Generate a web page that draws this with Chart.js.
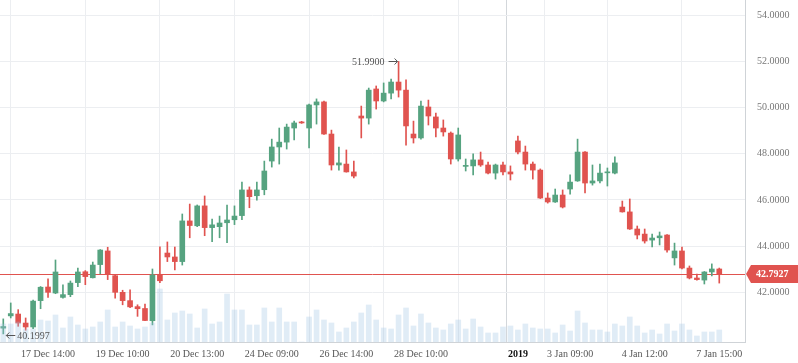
<!DOCTYPE html>
<html>
<head>
<meta charset="utf-8">
<script src="https://cdn.jsdelivr.net/npm/chart.js"></script>
<style>
  html, body { margin: 0; padding: 0; background: #fff; }
  #wrap { width: 798px; height: 363px; }
</style>
</head>
<body>
<div id="wrap"><canvas id="chart" width="798" height="363"></canvas></div>
<script>
// candles, one per bar index (0 = 17 Dec morning ... 96 = 7 Jan 15:00)
const opens = [
  40.45, 40.98, 41.06, 40.67, 40.50, 41.64, 42.23, 41.97, 41.78, 41.90,
  42.42, 42.89, 42.63, 43.20, 43.79, 42.72, 42.00, 41.64, 41.38, 41.30,
  40.77, 42.78, 43.70, 43.53, 43.33, 45.09, 44.88, 45.74, 44.80, 44.84,
  45.01, 45.14, 45.32, 46.43, 46.18, 46.44, 47.68, 48.29, 48.50, 49.11,
  49.37, 49.11, 50.11, 50.24, 48.85, 47.51, 47.55, 47.21, 49.63, 49.54,
  50.80, 50.28, 50.62, 51.10, 50.75, 48.85, 48.68, 50.02, 49.59, 49.11,
  48.89, 47.77, 47.45, 47.47, 47.73, 47.51, 47.16, 47.51, 47.21, 48.55,
  48.07, 47.55, 47.29, 46.08, 45.91, 46.21, 46.47, 46.82, 48.07, 46.73,
  46.82, 47.17, 47.16, 45.69, 45.48, 44.74, 44.52, 44.26, 44.36, 44.48,
  43.49, 43.79, 43.05, 42.62, 42.53, 42.88, 43.01
];
const highs = [
  40.85, 41.54, 41.25, 40.89, 41.66, 42.25, 42.58, 43.40, 42.32, 42.49,
  43.05, 42.94, 43.31, 43.85, 43.95, 42.74, 42.09, 42.11, 41.46, 41.49,
  43.01, 43.97, 44.18, 43.96, 45.39, 45.82, 45.78, 46.17, 45.17, 45.30,
  45.78, 45.74, 46.77, 46.56, 46.77, 47.68, 48.63, 49.11, 49.28, 49.41,
  49.40, 50.15, 50.37, 50.28, 49.02, 48.29, 48.16, 47.68, 50.06, 50.84,
  50.93, 51.06, 51.23, 51.99, 51.19, 49.41, 50.28, 50.32, 49.76, 49.46,
  48.94, 49.11, 47.77, 47.99, 48.07, 47.64, 47.55, 47.64, 47.47, 48.76,
  48.33, 47.64, 47.34, 46.30, 46.47, 46.43, 47.08, 48.63, 48.09, 47.51,
  47.55, 47.38, 47.86, 45.95, 46.04, 44.87, 44.74, 44.52, 44.61, 44.50,
  44.13, 43.96, 43.14, 42.79, 42.90, 43.23, 43.05
];
const lows = [
  40.1997, 40.89, 40.53, 40.36, 40.43, 41.29, 41.78, 41.94, 41.75, 41.81,
  42.24, 42.33, 42.62, 42.80, 42.55, 41.75, 41.46, 41.34, 40.96, 40.77,
  40.59, 42.42, 43.33, 42.97, 43.18, 44.36, 44.84, 44.45, 44.19, 44.36,
  44.15, 44.93, 45.14, 45.66, 45.99, 46.22, 47.42, 47.55, 48.20, 48.59,
  49.31, 48.25, 49.28, 48.83, 47.29, 47.29, 47.20, 46.95, 48.68, 49.28,
  49.93, 50.24, 50.37, 50.45, 48.37, 48.46, 48.63, 49.24, 48.72, 48.76,
  47.55, 47.68, 47.25, 47.08, 47.45, 47.12, 46.90, 47.08, 46.86, 47.99,
  47.29, 46.90, 46.06, 45.86, 45.89, 45.65, 46.25, 46.80, 46.30, 46.64,
  46.73, 46.60, 47.12, 45.47, 44.72, 44.31, 44.13, 43.96, 44.05, 43.74,
  43.18, 43.01, 42.58, 42.53, 42.36, 42.71, 42.40
];
const closes = [
  40.52, 41.08, 40.67, 40.50, 41.62, 42.22, 42.00, 42.88, 41.90, 42.40,
  42.88, 42.68, 43.18, 43.83, 42.80, 42.00, 41.64, 41.37, 41.29, 40.78,
  42.75, 42.50, 43.53, 43.33, 45.09, 44.89, 45.74, 44.80, 44.92, 45.00,
  45.13, 45.30, 46.43, 46.14, 46.43, 47.25, 48.29, 48.50, 49.15, 49.33,
  49.33, 50.11, 50.24, 48.85, 47.51, 47.60, 47.21, 47.03, 49.54, 50.75,
  50.28, 50.62, 51.10, 50.75, 49.20, 48.68, 50.06, 49.63, 49.11, 48.94,
  47.77, 48.81, 47.49, 47.73, 47.51, 47.16, 47.51, 47.21, 47.12, 48.07,
  47.55, 47.29, 46.08, 45.91, 46.21, 45.69, 46.77, 48.07, 46.73, 46.82,
  47.16, 47.21, 47.60, 45.48, 44.74, 44.48, 44.22, 44.35, 44.44, 43.83,
  43.79, 43.05, 42.62, 42.55, 42.88, 43.01, 42.7927
];
// volume (thousands)
const volumes = [
  450, 450, 500, 325, 325, 550, 525, 675, 350, 625,
  425, 325, 375, 500, 800, 375, 500, 400, 325, 375,
  475, 1325, 550, 725, 775, 700, 350, 825, 450, 500,
  1200, 800, 800, 425, 425, 850, 500, 850, 500, 500,
  0, 625, 800, 550, 475, 250, 350, 500, 725, 925,
  550, 350, 325, 675, 850, 400, 700, 475, 350, 300,
  450, 550, 325, 575, 375, 225, 225, 375, 400, 300,
  450, 350, 325, 325, 225, 425, 275, 775, 475, 300,
  300, 250, 450, 400, 625, 400, 225, 300, 200, 450,
  275, 450, 300, 150, 250, 250, 300
];
const tickIdx = [6, 16, 26, 36, 46, 56, 66, 69, 76, 86, 96];
const tickLabels = ['17 Dec 14:00', '19 Dec 10:00', '20 Dec 13:00', '24 Dec 09:00', '26 Dec 14:00',
  '28 Dec 10:00', '', '2019', '3 Jan 09:00', '4 Jan 12:00', '7 Jan 15:00'];
const priceTicks = [42, 44, 46, 48, 50, 52, 54];

const GREEN = '#56a380';
const RED = '#e0534f';
const FONT = '"Liberation Serif", "Times New Roman", serif';

const idx = opens.map((_, i) => i);
const lastPrice = closes[closes.length - 1];
const candleColors = idx.map(i => closes[i] >= opens[i] ? GREEN : RED);

// little arrow drawn with lines, tip at (x, y)
function arrow(ctx, x, y, dir) {
  const len = 9;
  ctx.beginPath();
  ctx.moveTo(x - dir * len, y + 0.5);
  ctx.lineTo(x, y + 0.5);
  ctx.moveTo(x - dir * 3, y - 2.5);
  ctx.lineTo(x, y + 0.5);
  ctx.lineTo(x - dir * 3, y + 3.5);
  ctx.stroke();
}

const markPlugin = {
  id: 'priceMarks',
  beforeDatasetsDraw(chart) {
    const { ctx, chartArea, scales } = chart;
    const y = Math.round(scales.y.getPixelForValue(lastPrice)) + 0.5;
    ctx.save();
    ctx.strokeStyle = RED;
    ctx.lineWidth = 1;
    ctx.beginPath();
    ctx.moveTo(chartArea.left, y);
    ctx.lineTo(chartArea.right, y);
    ctx.stroke();
    ctx.restore();
  },
  afterDraw(chart) {
    const { ctx, chartArea, scales } = chart;
    const xs = scales.x, ys = scales.y;
    ctx.save();

    // last price tag on the axis
    const y = Math.round(ys.getPixelForValue(lastPrice));
    const x0 = chartArea.right + 1;
    ctx.fillStyle = RED;
    ctx.beginPath();
    ctx.moveTo(x0, y);
    ctx.lineTo(x0 + 5, y - 9);
    ctx.lineTo(chart.width, y - 9);
    ctx.lineTo(chart.width, y + 9);
    ctx.lineTo(x0 + 5, y + 9);
    ctx.closePath();
    ctx.fill();
    ctx.fillStyle = '#fff';
    ctx.font = 'bold 10px ' + FONT;
    ctx.textBaseline = 'middle';
    ctx.textAlign = 'left';
    ctx.fillText(lastPrice.toFixed(4), chartArea.right + 11, y);

    // high and low of the period
    const hi = Math.max(...highs), lo = Math.min(...lows);
    const hiI = highs.indexOf(hi), loI = lows.indexOf(lo);
    const hx = xs.getPixelForValue(hiI), hy = Math.round(ys.getPixelForValue(hi)) + 1;
    const lx = xs.getPixelForValue(loI), ly = Math.round(ys.getPixelForValue(lo)) + 1;
    ctx.fillStyle = '#555';
    ctx.strokeStyle = '#555';
    ctx.lineWidth = 1;
    ctx.font = '10px ' + FONT;
    ctx.textAlign = 'right';
    ctx.fillText(hi.toFixed(4), hx - 14, hy);
    arrow(ctx, hx - 1, hy - 1, 1);
    ctx.textAlign = 'left';
    ctx.fillText(lo.toFixed(4), lx + 14, ly + 1);
    arrow(ctx, lx + 3, ly, -1);
    ctx.restore();
  }
};

new Chart(document.getElementById('chart'), {
  type: 'bar',
  data: {
    datasets: [
      {
        label: 'Volume',
        data: idx.map(i => ({ x: i, y: volumes[i] })),
        yAxisID: 'yv',
        backgroundColor: 'rgba(160, 196, 226, 0.32)',
        barThickness: 5,
        grouped: false,
        order: 0
      },
      {
        label: 'Body',
        data: idx.map(i => ({ x: i, y: [opens[i], closes[i]] })),
        backgroundColor: candleColors,
        barThickness: 5,
        minBarLength: 1,
        grouped: false,
        order: 1
      },
      {
        label: 'Wick',
        data: idx.map(i => ({ x: i, y: [lows[i], highs[i]] })),
        backgroundColor: candleColors,
        barThickness: 1,
        grouped: false,
        order: 2
      }
    ]
  },
  options: {
    responsive: false,
    animation: false,
    layout: { padding: 0 },
    plugins: {
      legend: { display: false },
      tooltip: { enabled: false }
    },
    scales: {
      x: {
        type: 'linear',
        min: -0.44,
        max: 99.45,
        offset: false,
        grid: {
          drawTicks: false,
          color: c => c.tick && c.tick.value === 69 ? '#d3d7db' : '#eceef1'
        },
        border: { color: '#cfd3d7' },
        ticks: {
          autoSkip: false,
          maxRotation: 0,
          padding: 6,
          color: c => c.tick && c.tick.value === 69 ? '#111' : '#555',
          font: c => ({ family: FONT, size: 10, weight: c.tick && c.tick.value === 69 ? 'bold' : 'normal' }),
          callback: v => tickLabels[tickIdx.indexOf(v)] || ''
        },
        afterBuildTicks: s => { s.ticks = tickIdx.map(v => ({ value: v })); },
        afterFit: s => { s.height = 21; s.paddingLeft = 0; s.paddingRight = 0; }
      },
      y: {
        position: 'right',
        min: 39.85,
        max: 54.65,
        grid: { drawTicks: false, color: '#eceef1' },
        border: { color: '#cfd3d7' },
        ticks: {
          padding: 12,
          color: '#777',
          font: { family: FONT, size: 10 },
          callback: v => v.toFixed(4)
        },
        afterBuildTicks: s => { s.ticks = priceTicks.map(v => ({ value: v })); },
        afterFit: s => { s.width = 53; s.paddingTop = 0; s.paddingBottom = 0; }
      },
      yv: {
        display: false,
        min: 0,
        max: 8550
      }
    }
  },
  plugins: [markPlugin]
});
</script>
</body>
</html>
